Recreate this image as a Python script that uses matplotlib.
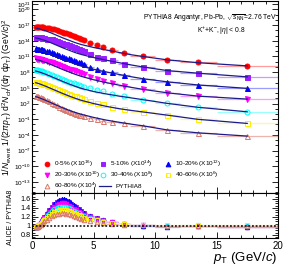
import numpy as np
import matplotlib
matplotlib.use('Agg')
import matplotlib.pyplot as plt
from matplotlib.ticker import FixedLocator, MultipleLocator, FuncFormatter, NullFormatter

plt.rcParams['font.family'] = ['Liberation Sans', 'DejaVu Sans']
plt.rcParams['mathtext.fontset'] = 'custom'
plt.rcParams['mathtext.rm'] = 'Liberation Sans'
plt.rcParams['mathtext.it'] = 'Liberation Sans:italic'
plt.rcParams['mathtext.bf'] = 'Liberation Sans:bold'

# ---------------- data ----------------
pt = [0.3, 0.4, 0.5, 0.6, 0.7, 0.8, 0.9, 1.0, 1.2, 1.4, 1.6, 1.8, 2.0, 2.2, 2.4, 2.6, 2.8, 3.0,
      3.2, 3.4, 3.6, 3.8, 4.0, 4.25, 4.75, 5.25, 5.75, 6.5, 7.5, 9.0, 11.0, 13.5, 17.5]
pt_halfwidth = [0.05] * 8 + [0.1] * 15 + [0.25, 0.25, 0.25, 0.25, 0.5, 0.5, 1.0, 1.0, 1.5, 2.5]

centralities = ['0-5%', '5-10%', '10-20%', '20-30%', '30-40%', '40-60%', '60-80%']
scale_exp = [16, 14, 12, 10, 8, 6, 4]

# log10 of scaled spectra (ALICE)
log_0_5 = [16.68, 16.67, 16.66, 16.64, 16.61, 16.58, 16.54, 16.50, 16.44, 16.38, 16.29, 16.17, 16.03, 15.88,
           15.72, 15.56, 15.39, 15.22, 15.05, 14.88, 14.72, 14.56, 14.40, 14.12, 13.62, 13.12, 12.76, 12.30,
           11.66, 11.06, 10.32, 9.85, 9.15]
log_5_10 = [14.76, 14.74, 14.72, 14.69, 14.65, 14.61, 14.56, 14.51, 14.43, 14.35, 14.25, 14.12, 13.97, 13.81,
            13.64, 13.47, 13.29, 13.11, 12.94, 12.77, 12.61, 12.45, 12.30, 11.98, 11.45, 10.96, 10.72, 10.28,
            9.52, 9.03, 8.26, 7.86, 7.02]
log_10_20 = [12.54, 12.52, 12.49, 12.45, 12.40, 12.34, 12.28, 12.21, 12.08, 11.95, 11.80, 11.64, 11.47, 11.30,
             11.12, 10.95, 10.78, 10.61, 10.45, 10.29, 10.14, 9.99, 9.85, 9.50, 9.05, 8.60, 8.30, 7.95,
             7.45, 6.70, 6.15, 5.55, 4.90]
log_20_30 = [10.63, 10.60, 10.56, 10.52, 10.47, 10.41, 10.35, 10.28, 10.14, 10.00, 9.85, 9.69, 9.52, 9.35,
             9.17, 9.00, 8.83, 8.66, 8.50, 8.34, 8.19, 8.05, 7.91, 7.60, 7.12, 6.70, 6.38, 5.98,
             5.40, 4.70, 4.05, 3.42, 2.85]
log_30_40 = [8.40, 8.37, 8.33, 8.28, 8.22, 8.15, 8.08, 8.00, 7.84, 7.67, 7.49, 7.31, 7.12, 6.93,
             6.74, 6.55, 6.37, 6.19, 6.02, 5.85, 5.69, 5.53, 5.38, 5.20, 4.88, 4.57, 4.36, 3.90,
             3.45, 2.75, 2.03, 1.28, 0.42]
log_40_60 = [6.16, 6.12, 6.07, 6.01, 5.94, 5.86, 5.78, 5.69, 5.51, 5.32, 5.12, 4.92, 4.72, 4.52,
             4.33, 4.15, 3.97, 3.80, 3.64, 3.49, 3.35, 3.22, 3.10, 2.88, 2.50, 2.14, 1.88, 1.42,
             0.92, 0.40, -0.22, -1.02, -1.80]
log_60_80 = [3.50, 3.44, 3.37, 3.29, 3.20, 3.10, 3.00, 2.89, 2.66, 2.42, 2.17, 1.92, 1.67, 1.43,
             1.20, 0.98, 0.77, 0.57, 0.38, 0.20, 0.03, -0.13, -0.28, -0.46, -0.78, -1.05, -1.25, -1.50,
             -1.80, -2.25, -3.05, -3.60, -4.22]

# PYTHIA8 Angantyr curves (log10, scaled)
pt_py = [0.3, 0.5, 1.0, 1.5, 2.0, 2.5, 3.0, 3.5, 4.0, 5.0, 6.0, 7.0, 8.0, 9.0, 11.0, 13.5, 17.5]
py_0_5 = [16.45, 16.35, 16.00, 15.55, 15.05, 14.55, 14.10, 13.65, 13.28, 12.72, 12.25, 11.80, 11.35, 11.00, 10.35, 9.80, 9.20]
py_5_10 = [14.55, 14.45, 14.10, 13.65, 13.15, 12.65, 12.20, 11.75, 11.38, 10.80, 10.30, 9.85, 9.40, 9.00, 8.30, 7.80, 7.10]
py_10_20 = [12.35, 12.25, 11.90, 11.45, 10.95, 10.45, 10.00, 9.55, 9.15, 8.55, 8.05, 7.60, 7.15, 6.75, 6.15, 5.55, 4.90]
py_20_30 = [10.45, 10.33, 9.95, 9.50, 9.00, 8.50, 8.05, 7.60, 7.20, 6.55, 6.02, 5.55, 5.12, 4.72, 4.05, 3.42, 2.85]
py_30_40 = [8.22, 8.10, 7.70, 7.22, 6.72, 6.22, 5.75, 5.30, 4.90, 4.30, 3.85, 3.45, 3.10, 2.75, 2.03, 1.28, 0.42]
py_40_60 = [5.98, 5.85, 5.42, 4.92, 4.42, 3.92, 3.45, 3.02, 2.62, 2.00, 1.48, 1.05, 0.70, 0.40, -0.22, -1.02, -1.80]
py_60_80 = [3.32, 3.18, 2.72, 2.20, 1.68, 1.18, 0.72, 0.30, -0.05, -0.65, -1.15, -1.55, -1.92, -2.25, -3.05, -3.60, -4.22]

# ALICE / PYTHIA8 ratios
r_0_5 = [0.97, 0.98, 1.00, 1.03, 1.06, 1.10, 1.14, 1.18, 1.26, 1.33, 1.40, 1.46, 1.50, 1.53, 1.55, 1.55, 1.54, 1.51,
         1.47, 1.43, 1.39, 1.35, 1.31, 1.27, 1.21, 1.16, 1.12, 1.08, 1.04, 1.00, 0.99, 1.00, 0.98]
r_5_10 = [0.97, 0.98, 1.00, 1.03, 1.07, 1.11, 1.15, 1.19, 1.27, 1.35, 1.42, 1.48, 1.52, 1.56, 1.58, 1.58, 1.56, 1.53,
          1.49, 1.45, 1.41, 1.37, 1.33, 1.28, 1.22, 1.17, 1.13, 1.09, 1.04, 1.01, 0.99, 0.99, 0.97]
r_10_20 = [0.97, 0.98, 1.00, 1.03, 1.07, 1.11, 1.15, 1.20, 1.28, 1.36, 1.43, 1.49, 1.54, 1.57, 1.60, 1.60, 1.58, 1.55,
           1.51, 1.46, 1.42, 1.38, 1.34, 1.29, 1.22, 1.17, 1.13, 1.09, 1.04, 1.00, 0.98, 0.99, 0.97]
r_20_30 = [0.97, 0.98, 1.00, 1.03, 1.06, 1.10, 1.13, 1.17, 1.24, 1.31, 1.37, 1.42, 1.46, 1.49, 1.50, 1.50, 1.48, 1.45,
           1.42, 1.38, 1.35, 1.31, 1.28, 1.24, 1.19, 1.15, 1.11, 1.08, 1.04, 1.01, 1.00, 1.00, 0.99]
r_30_40 = [0.97, 0.98, 1.00, 1.02, 1.05, 1.08, 1.11, 1.15, 1.21, 1.27, 1.32, 1.37, 1.40, 1.42, 1.43, 1.43, 1.42, 1.40,
           1.37, 1.34, 1.31, 1.28, 1.25, 1.21, 1.17, 1.13, 1.10, 1.07, 1.04, 1.01, 1.00, 1.01, 1.00]
r_40_60 = [0.97, 0.98, 0.99, 1.01, 1.04, 1.07, 1.10, 1.13, 1.18, 1.23, 1.27, 1.31, 1.34, 1.35, 1.36, 1.36, 1.35, 1.33,
           1.31, 1.29, 1.26, 1.24, 1.21, 1.18, 1.15, 1.12, 1.09, 1.07, 1.04, 1.02, 1.01, 1.01, 1.01]
r_60_80 = [0.97, 0.97, 0.98, 1.00, 1.02, 1.05, 1.07, 1.10, 1.14, 1.18, 1.21, 1.24, 1.26, 1.27, 1.28, 1.28, 1.27, 1.26,
           1.24, 1.22, 1.20, 1.18, 1.16, 1.14, 1.11, 1.09, 1.07, 1.05, 1.03, 1.01, 1.00, 1.00, 0.99]

data_logs = [log_0_5, log_5_10, log_10_20, log_20_30, log_30_40, log_40_60, log_60_80]
py_logs = [py_0_5, py_5_10, py_10_20, py_20_30, py_30_40, py_40_60, py_60_80]
ratios = [r_0_5, r_5_10, r_10_20, r_20_30, r_30_40, r_40_60, r_60_80]

colors = ['#ff0000', '#9a1eff', '#0000ff', '#ff00ff', '#00ffff', '#ffee00', '#d9776b']
light = ['#ff9c9c', '#c99cff', '#9c9cff', '#ff9cff', '#9cffff', '#fff79c', '#eeb3ab']
markers = ['o', 's', '^', 'v', 'o', 's', '^']
filled = [True, True, True, True, False, False, False]
line_col = '#1b1b8a'

# ---------------- figure ----------------
W, H = 292, 268
fig = plt.figure(figsize=(W / 100, H / 100), dpi=100)
L, R = 32, 278
ax1 = fig.add_axes([L / W, 1 - 193 / H, (R - L) / W, 192 / H])
ax2 = fig.add_axes([L / W, 1 - 238 / H, (R - L) / W, 45 / H])

pt_a = np.array(pt)
MS = 3.6
for i in range(7):
    y = 10.0 ** np.array(data_logs[i])
    ax1.errorbar(pt_a, y, xerr=pt_halfwidth, fmt='none', ecolor=light[i], elinewidth=0.9, zorder=2)
    ax1.plot(pt_a, y, ls='none', marker=markers[i], ms=MS,
             mfc=colors[i] if filled[i] else 'none', mec=colors[i], mew=0.7, zorder=3)
for i in range(7):
    ax1.plot(pt_py, 10.0 ** np.array(py_logs[i]), color=line_col, lw=0.9, zorder=4)

for i in range(7):
    r = np.array(ratios[i])
    ax2.errorbar(pt_a, r, xerr=pt_halfwidth, fmt='none', ecolor=light[i], elinewidth=0.9, zorder=2)
    ax2.plot(pt_a, r, ls='none', marker=markers[i], ms=3.2,
             mfc=colors[i] if filled[i] else 'none', mec=colors[i], mew=0.7, zorder=3)
ax2.axhline(1.0, color='black', ls=(0, (1.2, 1.2)), lw=1.1, zorder=5)

# ---------------- axes styling ----------------
ax1.set_yscale('log')
ax1.set_xlim(0, 20)
ax1.set_ylim(10 ** -15.1, 10 ** 21.6)
ax2.set_xlim(0, 20)
ax2.set_ylim(0.73, 1.73)

major_exp = [-13, -10, -7, -4, -1, 2, 5, 8, 11, 14, 17, 20, 21]
ax1.yaxis.set_major_locator(FixedLocator([10.0 ** e for e in major_exp]))
ax1.yaxis.set_minor_locator(FixedLocator([10.0 ** e for e in range(-15, 22)]))
ax1.yaxis.set_major_formatter(FuncFormatter(lambda v, p: r'$10^{%d}$' % int(round(np.log10(v)))))
ax1.yaxis.set_minor_formatter(NullFormatter())

for ax in (ax1, ax2):
    ax.xaxis.set_major_locator(MultipleLocator(5))
    ax.xaxis.set_minor_locator(MultipleLocator(1))
    ax.tick_params(which='both', direction='in', top=True, right=True, labelsize=5.2, pad=1.5, width=0.6)
    ax.tick_params(which='major', length=4)
    ax.tick_params(which='minor', length=2)
    for s in ax.spines.values():
        s.set_linewidth(0.8)
ax1.tick_params(labelbottom=False)
ax1.tick_params(axis='y', labelsize=4.6, pad=1)
ax2.tick_params(axis='x', labelsize=7, pad=2)

ax2.yaxis.set_major_locator(FixedLocator([0.8, 1.0, 1.2, 1.4, 1.6]))
ax2.yaxis.set_minor_locator(MultipleLocator(0.05))
ax2.yaxis.set_major_formatter(FuncFormatter(lambda v, p: ('%g' % v)))
ax2.tick_params(axis='y', labelsize=5.2, pad=1)

ax1.set_ylabel(r'1/$N_{\rm event}$ 1/(2$\pi p_{\rm T}$) d$^{2}N_{\rm ch}$/(d$\eta$ d$p_{\rm T}$) (GeV/$c$)$^{2}$',
               fontsize=6.2, labelpad=1)
ax1.yaxis.set_label_coords(-0.072, 0.5)
ax2.set_ylabel('ALICE / PYTHIA8', fontsize=5.0, labelpad=1)
ax2.yaxis.set_label_coords(-0.075, 0.45)

fig.text(277 / W, 1 - 258 / H, r'$p_{\rm T}$ (GeV/$c$)', ha='right', va='center', fontsize=9.5)

ax1.text(0.998, 0.912, r'PYTHIA8 Angantyr, Pb-Pb, $\sqrt{s_{\rm NN}}$=2.76 TeV', transform=ax1.transAxes,
         ha='right', va='center', fontsize=4.9)
ax1.text(0.77, 0.843, r'K$^{+}$+K$^{-}$, |$\eta$| < 0.8', transform=ax1.transAxes,
         ha='center', va='center', fontsize=4.9)

# ---------------- legend (manual placement, ROOT-like) ----------------
def ax_x(px):
    return (px - L) / (R - L)

def ax_y(py):
    return (193 - py) / 192

legend_slots = [(47, 164), (103, 164), (168, 164),
                (47, 175), (103, 175), (168, 175),
                (47, 186)]
for i in range(7):
    mx, my = legend_slots[i]
    ax1.plot([ax_x(mx)], [ax_y(my)], transform=ax1.transAxes, ls='none', marker=markers[i], ms=3.4,
             mfc=colors[i] if filled[i] else 'none', mec=colors[i], mew=0.7, clip_on=False)
    ax1.text(ax_x(mx + 7), ax_y(my), r'%s (X10$^{%d}$)' % (centralities[i], scale_exp[i]),
             transform=ax1.transAxes, ha='left', va='center', fontsize=4.6)
ax1.plot([ax_x(99), ax_x(111)], [ax_y(186), ax_y(186)], transform=ax1.transAxes, color=line_col, lw=0.9)
ax1.text(ax_x(115), ax_y(186), 'PYTHIA8', transform=ax1.transAxes, ha='left', va='center', fontsize=4.6)

fig.savefig('out.png', dpi=100)
